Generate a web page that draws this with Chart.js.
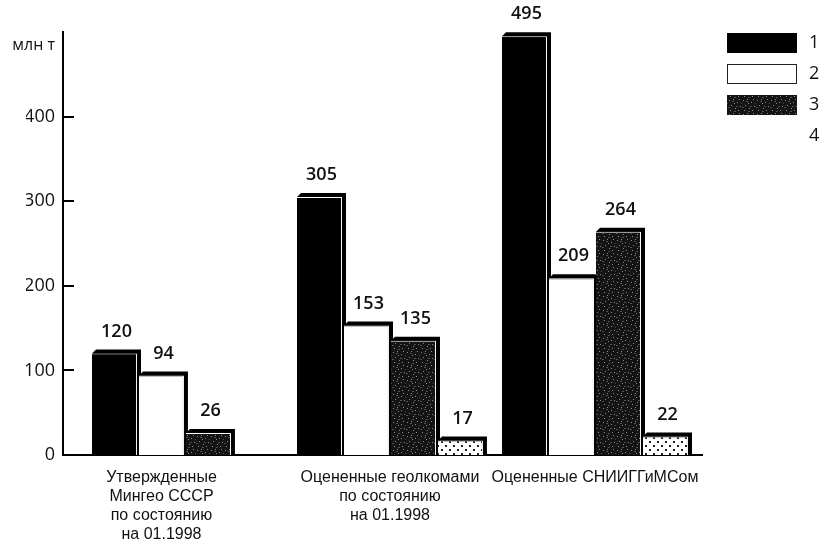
<!DOCTYPE html>
<html lang="ru">
<head>
<meta charset="utf-8">
<title>Запасы, млн т</title>
<script src="https://cdn.jsdelivr.net/npm/chart.js@4.4.1/dist/chart.umd.min.js"></script>
<style>
    html, body { margin: 0; padding: 0; background: #fff; }
    #wrap { width: 821px; height: 541px; position: relative; }
</style>
</head>
<body>
<div id="wrap"><canvas id="reserves-chart"></canvas></div>
<script>
const categories = [
    ['Утвержденные', 'Мингео СССР', 'по состоянию', 'на 01.1998'],
    ['Оцененные геолкомами', 'по состоянию', 'на 01.1998'],
    'Оцененные СНИИГГиМСом'
];
const seriesNames = ['1', '2', '3', '4'];
const series1 = [120, 305, 495];
const series2 = [94, 153, 209];
const series3 = [26, 135, 264];
const series4 = [null, 17, 22];
const yTicks = [0, 100, 200, 300, 400, 500];
const yUnit = 'млн т';

const numberFont = '"Open Sans", "Noto Sans", sans-serif';
const labelFont = '"Liberation Sans", Arial, sans-serif';
const categoryPercentage = 0.917;

// bars sit at category index 0, 1, 2 on a numeric x axis
const toPoints = values => values.map((v, i) => ({ x: i, y: v }));

// category label goes under the middle of the bars that are actually present
function labelPositions(allSeries) {
    const n = allSeries.length;
    return categories.map((_, i) => {
        const slots = allSeries.map((s, k) => (s[i] == null ? null : k)).filter(k => k != null);
        const mid = slots.reduce((a, k) => a + k, 0) / slots.length;
        return i + (mid - (n - 1) / 2) * categoryPercentage / n;
    });
}

// dark fill with light grey specks
function speckledPattern(ctx) {
    const c = document.createElement('canvas');
    c.width = 14;
    c.height = 14;
    const g = c.getContext('2d');
    g.fillStyle = '#141414';
    g.fillRect(0, 0, 14, 14);
    g.fillStyle = '#8a8a8a';
    [[1, 2], [5, 1], [9, 4], [12, 8], [3, 7], [7, 10], [10, 12], [2, 12], [6, 5], [11, 1]]
        .forEach(([x, y]) => g.fillRect(x, y, 1, 1));
    g.fillStyle = '#505050';
    [[4, 3], [8, 8], [0, 9], [13, 5], [6, 13]].forEach(([x, y]) => g.fillRect(x, y, 2, 1));
    return ctx.createPattern(c, 'repeat');
}

// white fill with staggered black dots
function dottedPattern(ctx) {
    const c = document.createElement('canvas');
    c.width = 8;
    c.height = 8;
    const g = c.getContext('2d');
    g.fillStyle = '#fff';
    g.fillRect(0, 0, 8, 8);
    g.fillStyle = '#222';
    g.fillRect(1, 1, 2, 2);
    g.fillRect(5, 5, 2, 2);
    return ctx.createPattern(c, 'repeat');
}

// black offset "box" behind every bar: bevelled top edge and right side
const barShadows = {
    id: 'barShadows',
    beforeDatasetsDraw(chart) {
        const ctx = chart.ctx;
        const d = 4;
        ctx.save();
        ctx.fillStyle = '#000';
        chart.data.datasets.forEach((ds, i) => {
            chart.getDatasetMeta(i).data.forEach((bar, j) => {
                if (ds.data[j].y == null) return;
                const { x, y, base, width } = bar.getProps(['x', 'y', 'base', 'width'], true);
                const l = x - width / 2;
                const r = x + width / 2;
                ctx.beginPath();
                ctx.moveTo(l, y);
                ctx.lineTo(l + d, y - d);
                ctx.lineTo(r + d, y - d);
                ctx.lineTo(r + d, base);
                ctx.lineTo(r, base);
                ctx.closePath();
                ctx.fill();
            });
        });
        ctx.restore();
    }
};

// value above each bar
const barValues = {
    id: 'barValues',
    afterDatasetsDraw(chart) {
        const ctx = chart.ctx;
        ctx.save();
        ctx.font = `600 18px ${numberFont}`;
        ctx.fillStyle = '#111';
        ctx.textAlign = 'center';
        ctx.textBaseline = 'middle';
        chart.data.datasets.forEach((ds, i) => {
            chart.getDatasetMeta(i).data.forEach((bar, j) => {
                const v = ds.data[j].y;
                if (v == null) return;
                const { x, y } = bar.getProps(['x', 'y'], true);
                ctx.fillText(String(v), x + 2, y - 22);
            });
        });
        ctx.restore();
    }
};

// inward tick marks and the unit caption on the value axis
const axisExtras = {
    id: 'axisExtras',
    afterDraw(chart) {
        const { ctx, chartArea } = chart;
        const yScale = chart.scales.y;
        ctx.save();
        ctx.strokeStyle = '#000';
        ctx.lineWidth = 2;
        yTicks.slice(1, -1).forEach(v => {
            const py = Math.round(yScale.getPixelForValue(v));
            ctx.beginPath();
            ctx.moveTo(chartArea.left, py);
            ctx.lineTo(chartArea.left + 11, py);
            ctx.stroke();
        });
        ctx.font = `500 16px ${numberFont}`;
        ctx.fillStyle = '#111';
        ctx.textAlign = 'right';
        ctx.textBaseline = 'middle';
        ctx.fillText(yUnit, chartArea.left - 8, chartArea.top + 13);
        ctx.restore();
    }
};

// key in the top right corner
const sideLegend = {
    id: 'sideLegend',
    afterDraw(chart) {
        const ctx = chart.ctx;
        const x0 = 727, y0 = 33, w = 70, h = 20, step = 31;
        ctx.save();
        chart.data.datasets.forEach((ds, i) => {
            const top = y0 + i * step;
            if (ds.swatch !== false) {
                ctx.fillStyle = ds.backgroundColor;
                ctx.fillRect(x0, top, w, h);
                if (ds.swatchStroke) {
                    ctx.strokeStyle = ds.swatchStroke;
                    ctx.lineWidth = 1;
                    ctx.strokeRect(x0 + 0.5, top + 0.5, w - 1, h - 1);
                }
            }
            ctx.font = `500 18px ${numberFont}`;
            ctx.fillStyle = '#111';
            ctx.textAlign = 'left';
            ctx.textBaseline = 'middle';
            ctx.fillText(ds.label, x0 + w + 12, top + h / 2);
        });
        ctx.restore();
    }
};

document.addEventListener('DOMContentLoaded', () => {
    const ctx = document.getElementById('reserves-chart').getContext('2d');
    const barBorder = { top: 1, right: 1, left: 0, bottom: 0 };
    const tickPositions = labelPositions([series1, series2, series3, series4]);

    new Chart(ctx, {
        type: 'bar',
        data: {
            datasets: [
                { label: seriesNames[0], data: toPoints(series1), backgroundColor: '#000000' },
                { label: seriesNames[1], data: toPoints(series2), backgroundColor: '#ffffff', swatchStroke: '#222' },
                { label: seriesNames[2], data: toPoints(series3), backgroundColor: speckledPattern(ctx) },
                { label: seriesNames[3], data: toPoints(series4), backgroundColor: dottedPattern(ctx), swatch: false }
            ].map(ds => Object.assign(ds, {
                borderColor: '#ffffff',
                borderWidth: barBorder,
                borderSkipped: false,
                categoryPercentage: categoryPercentage,
                barPercentage: 0.957
            }))
        },
        options: {
            responsive: true,
            maintainAspectRatio: false,
            animation: false,
            layout: {
                padding: { left: 26, right: 119, top: 32, bottom: 0 }
            },
            plugins: {
                legend: { display: false },
                tooltip: { enabled: false }
            },
            scales: {
                x: {
                    type: 'linear',
                    offset: false,
                    min: -0.595,
                    max: 2.522,
                    grid: { display: false, drawTicks: false, offset: false },
                    border: { color: '#000', width: 2 },
                    afterBuildTicks: scale => {
                        scale.ticks = tickPositions.map(value => ({ value }));
                    },
                    ticks: {
                        padding: 13,
                        color: '#111',
                        maxRotation: 0,
                        autoSkip: false,
                        font: { family: labelFont, size: 16, lineHeight: 1.19 },
                        callback: (v, i) => categories[i]
                    },
                    afterFit: scale => { scale.height = 86; }
                },
                y: {
                    min: yTicks[0],
                    max: yTicks[yTicks.length - 1],
                    grid: { display: false, drawTicks: false },
                    border: { color: '#000', width: 2 },
                    ticks: {
                        stepSize: 100,
                        padding: 8,
                        color: '#111',
                        font: { family: numberFont, size: 18, weight: '500' },
                        callback: v => (v === yTicks[yTicks.length - 1] ? '' : v)
                    },
                    afterFit: scale => { scale.width = 37; }
                }
            }
        },
        plugins: [barShadows, barValues, axisExtras, sideLegend]
    });
});
</script>
</body>
</html>
